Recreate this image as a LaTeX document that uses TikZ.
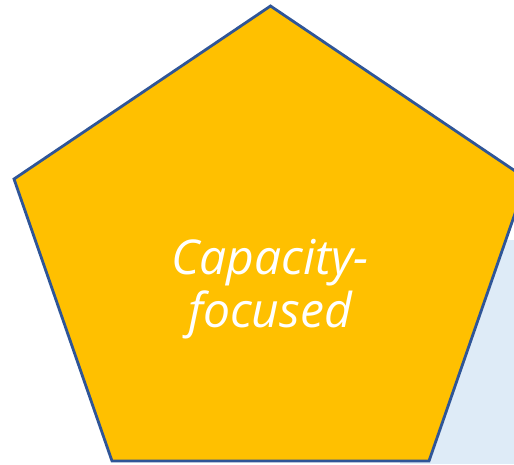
\documentclass[tikz,border=0pt]{standalone}
\usepackage{fontspec}
\setmainfont{Open Sans}
\definecolor{bgblue}{HTML}{DEEBF7}
\definecolor{pentfill}{HTML}{FFC000}
\definecolor{pentline}{HTML}{2F5597}
\tikzset{
  pentshape/.style={fill=pentfill, draw=pentline, line width=2.8pt, line join=miter},
  pentlabel/.style={text=white, align=center, font=\fontsize{48}{53}\selectfont\itshape, inner sep=0pt}
}
\begin{document}
\begin{tikzpicture}[x=1pt,y=-1pt]
\useasboundingbox (0,0) rectangle (514,464);
\fill[bgblue] (400,240) rectangle (514,464);
\coordinate (top) at (270.5,6);
\coordinate (right) at (527,179);
\coordinate (br) at (429,461);
\coordinate (bl) at (112,461);
\coordinate (left) at (14,179);
\draw[pentshape] (top) -- (right) -- (br) -- (bl) -- (left) -- cycle;
\node[pentlabel] (label) at (270,289) {Capacity-\\focused};
\end{tikzpicture}
\end{document}
